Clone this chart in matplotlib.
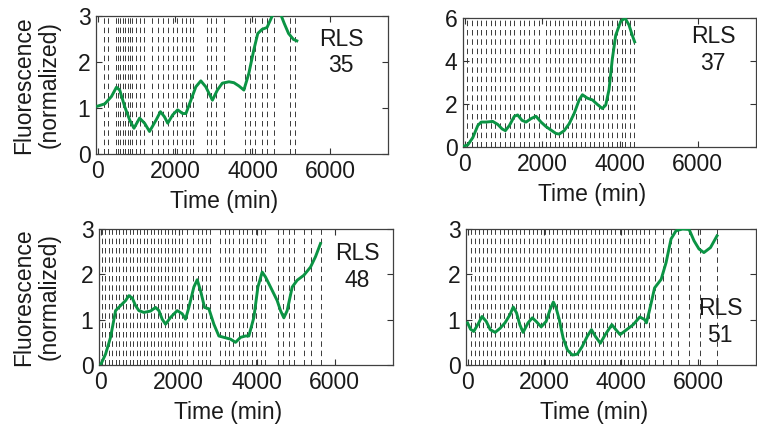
import matplotlib
matplotlib.use("Agg")
import matplotlib.pyplot as plt

plt.rcParams['font.family'] = ['Liberation Sans', 'DejaVu Sans']
plt.rcParams['font.size'] = 16.5

# --- данные: время (мин) и нормированная флуоресценция для четырёх клеток ---
rls = [35, 37, 48, 51]

t_35 = [0, 187, 359, 487, 573, 701, 829, 940, 1085, 1214, 1342, 1513, 1624, 1727, 1812,
        1940, 2068, 2197, 2282, 2410, 2538, 2667, 2795, 2966, 3094, 3222, 3393, 3521,
        3649, 3778, 3906, 4034, 4137, 4248, 4376, 4504, 4590, 4650, 4718, 4820, 4932,
        5060, 5146]
f_35 = [1.04, 1.09, 1.25, 1.45, 1.39, 1.03, 0.74, 0.56, 0.78, 0.67, 0.49, 0.74, 0.92,
        0.81, 0.67, 0.85, 0.96, 0.88, 0.88, 1.17, 1.46, 1.59, 1.46, 1.17, 1.39, 1.54,
        1.57, 1.55, 1.48, 1.39, 1.75, 2.26, 2.62, 2.71, 2.75, 2.99, 3.12, 3.18, 3.06,
        2.84, 2.62, 2.49, 2.46]
div_35 = [154, 282, 474, 538, 590, 654, 718, 782, 846, 897, 1000, 1103, 1205, 1410,
          1551, 1692, 1808, 1949, 2064, 2192, 2295, 2385, 2474, 2838, 2923, 3051, 3264,
          3803, 3949, 4077, 4249, 4377, 4546, 4974, 5103]

t_37 = [0, 85, 213, 341, 428, 556, 726, 854, 967, 1051, 1154, 1282, 1367, 1479, 1582,
        1710, 1838, 1967, 2095, 2223, 2351, 2436, 2564, 2692, 2821, 2949, 3033, 3162,
        3290, 3418, 3546, 3633, 3718, 3803, 3890, 4018, 4128, 4231, 4315, 4377]
f_37 = [0.05, 0.1, 0.44, 1.0, 1.16, 1.16, 1.19, 1.05, 0.84, 0.76, 1.0, 1.43, 1.49,
        1.24, 1.16, 1.32, 1.43, 1.16, 0.95, 0.79, 0.63, 0.6, 0.76, 1.08, 1.56, 2.19,
        2.43, 2.27, 2.19, 1.98, 1.79, 1.95, 2.67, 4.1, 5.2, 5.84, 6.0, 5.68, 5.2, 4.89]
div_37 = [69, 197, 308, 428, 564, 685, 795, 923, 1051, 1162, 1282, 1418, 1538, 1649,
          1777, 1905, 2085, 2197, 2315, 2428, 2538, 2659, 2769, 2879, 3000, 3110, 3238,
          3341, 3454, 3564, 3685, 3795, 3923, 4051, 4136, 4249, 4359]

t_48 = [0, 128, 256, 385, 513, 641, 726, 812, 897, 982, 1111, 1282, 1410, 1496, 1581,
        1667, 1795, 1966, 2094, 2179, 2265, 2393, 2479, 2564, 2667, 2778, 2906, 3034,
        3162, 3333, 3462, 3590, 3718, 3803, 3932, 4035, 4145, 4231, 4359, 4530, 4615,
        4701, 4786, 4915, 5043, 5214, 5385, 5513, 5641]
f_48 = [0.0, 0.24, 0.61, 1.2, 1.31, 1.42, 1.53, 1.48, 1.31, 1.2, 1.16, 1.19, 1.27, 1.2,
        1.01, 0.9, 1.05, 1.2, 1.13, 1.01, 1.27, 1.72, 1.88, 1.64, 1.27, 1.24, 0.9, 0.64,
        0.61, 0.57, 0.5, 0.61, 0.64, 0.64, 1.05, 1.72, 2.05, 1.94, 1.72, 1.42, 1.2, 1.04,
        1.2, 1.72, 1.87, 1.98, 2.16, 2.39, 2.68]
div_48 = [26, 115, 205, 295, 385, 474, 564, 654, 744, 833, 923, 1013, 1103, 1192, 1282,
          1372, 1462, 1551, 1641, 1731, 1821, 1910, 2000, 2090, 2218, 2359, 2487, 2590,
          2692, 2795, 3051, 3179, 3282, 3385, 3538, 3641, 3744, 3872, 3974, 4103, 4205,
          4538, 4667, 4821, 4949, 5205, 5385, 5641]

t_51 = [0, 77, 162, 291, 376, 487, 590, 718, 846, 974, 1103, 1188, 1274, 1359, 1444,
        1573, 1684, 1786, 1915, 2043, 2145, 2231, 2299, 2385, 2487, 2598, 2726, 2855,
        2983, 3111, 3222, 3325, 3453, 3581, 3752, 3855, 3966, 4137, 4308, 4479, 4607,
        4650, 4735, 4863, 5034, 5162, 5291, 5419, 5590, 5761, 5889, 6017, 6145, 6316,
        6487]
f_51 = [0.93, 0.79, 0.74, 0.93, 1.07, 0.96, 0.78, 0.72, 0.81, 0.93, 1.11, 1.28, 1.15,
        0.89, 0.72, 0.93, 1.04, 0.96, 0.84, 0.96, 1.22, 1.39, 1.27, 1.0, 0.59, 0.33,
        0.22, 0.24, 0.41, 0.63, 0.78, 0.63, 0.48, 0.67, 0.89, 0.78, 0.67, 0.78, 0.89,
        1.06, 1.0, 0.93, 1.22, 1.7, 1.89, 2.26, 2.78, 2.96, 3.0, 2.99, 2.74, 2.56, 2.48,
        2.59, 2.85]
div_51 = [77, 185, 292, 400, 508, 616, 723, 831, 939, 1046, 1154, 1262, 1369, 1477,
          1585, 1692, 1800, 1908, 2015, 2123, 2231, 2338, 2446, 2554, 2661, 2769, 2877,
          2985, 3092, 3200, 3308, 3415, 3523, 3631, 3738, 3846, 3954, 4061, 4169, 4277,
          4384, 4492, 4600, 4708, 4863, 5077, 5291, 5462, 5761, 6043, 6487]

times = [t_35, t_37, t_48, t_51]
fluor = [f_35, f_37, f_48, f_51]
divisions = [div_35, div_37, div_48, div_51]
y_max = [3, 6, 3, 3]
y_ticks = [[0, 1, 2, 3], [0, 2, 4, 6], [0, 1, 2, 3], [0, 1, 2, 3]]

# положение панелей в пикселях (слева, сверху, справа, снизу)
W, H = 757, 424
boxes = [(96, 16, 388, 154), (463, 18, 756, 147), (99, 229, 393, 365), (466, 229, 756, 365)]
rls_pos = [(0.84, 0.735), (0.853, 0.75), (0.878, 0.72), (0.876, 0.315)]

fig = plt.figure(figsize=(W / 100, H / 100), dpi=100)
green = '#0b9444'

for i in range(4):
    l, t, r, b = boxes[i]
    ax = fig.add_axes([l / W, (H - b) / H, (r - l) / W, (b - t) / H])
    for d in divisions[i]:
        ax.axvline(d, color='#1a1a1a', lw=0.6, ls=(0, (6.6, 4.6)), zorder=1)
    ax.plot(times[i], fluor[i], color=green, lw=2.1, zorder=3)
    ax.set_xlim(-40, 7500)
    ax.set_ylim(0, y_max[i])
    ax.set_xticks([0, 2000, 4000, 6000])
    ax.set_yticks(y_ticks[i])
    ax.tick_params(direction='in', top=True, right=True, length=4, width=0.8,
                   color='#333333', pad=4, labelcolor='#1a1a1a')
    for sp in ax.spines.values():
        sp.set_color('#404040')
        sp.set_linewidth(0.9)
    ax.set_xlabel('Time (min)', color='#1a1a1a')
    ax.xaxis.set_label_coords(0.44, -36 / (b - t))
    if i % 2 == 0:
        ax.set_ylabel('Fluorescence\n(normalized)', color='#1a1a1a', linespacing=1.15)
        ax.yaxis.set_label_coords(-(l - 61) / (r - l), 0.5)
    ax.text(rls_pos[i][0], rls_pos[i][1], 'RLS\n%d' % rls[i], transform=ax.transAxes,
            ha='center', va='center', color='#1a1a1a', linespacing=1.2, zorder=0)

fig.savefig('out.png', dpi=100)
